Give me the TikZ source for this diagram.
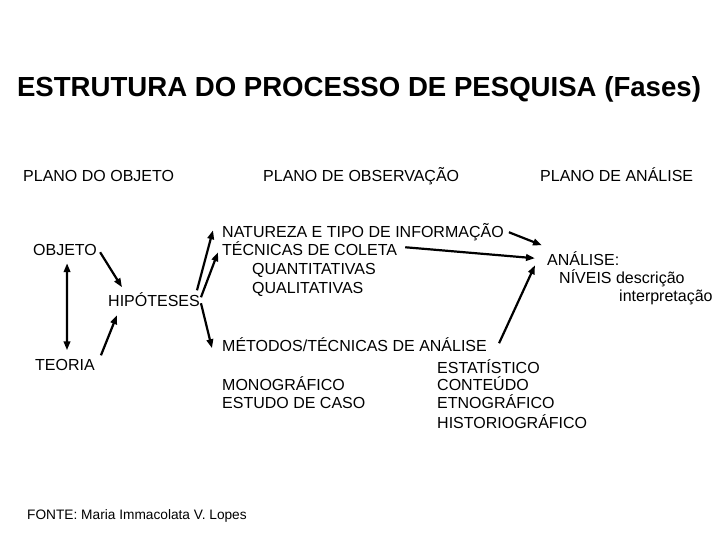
\documentclass[tikz,border=0pt]{standalone}
\usepackage{fontspec}
\setmainfont{Liberation Sans}
\usetikzlibrary{arrows.meta}

\begin{document}
\begin{tikzpicture}[
        x=1pt, y=-1pt,
        txt/.style={inner sep=0pt, anchor=base west, text height=11.5pt, text depth=0pt, font=\fontsize{16}{18}\selectfont},
        head/.style={inner sep=0pt, anchor=base, font=\bfseries\fontsize{27.6}{30}\selectfont},
        source/.style={inner sep=0pt, anchor=base west, font=\fontsize{13.7}{16}\selectfont},
        link/.style={line width=2.2pt, -{Triangle[length=9pt,width=6.5pt]}},
        twoway/.style={line width=2.2pt, {Triangle[length=9pt,width=6.5pt]}-{Triangle[length=9pt,width=6.5pt]}}
    ]
        \useasboundingbox (0,0) rectangle (720,540);

        % Title
        \node[head] (title) at (359,97) {ESTRUTURA DO PROCESSO DE PESQUISA (Fases)};

        % Phases
        \node[txt] (plano_obj) at (23,182) {PLANO DO OBJETO};
        \node[txt] (plano_obs) at (263,182) {PLANO DE OBSERVAÇÃO};
        \node[txt] (plano_ana) at (540,182) {PLANO DE ANÁLISE};

        % Plano do objeto
        \node[txt] (objeto) at (33,255) {OBJETO};
        \node[txt] (teoria) at (35,370) {TEORIA};
        \node[txt] (hip) at (108,306) {HIPÓTESES};

        % Plano de observacao
        \node[txt] (nat) at (222,237) {NATUREZA E TIPO DE INFORMAÇÃO};
        \node[txt] (tec) at (222,255) {TÉCNICAS DE COLETA};
        \node[txt] (quant) at (252,274) {QUANTITATIVAS};
        \node[txt] (qual) at (252,293) {QUALITATIVAS};
        \node[txt] (met) at (222,351) {MÉTODOS/TÉCNICAS DE ANÁLISE};
        \node[txt] (mono) at (222,390) {MONOGRÁFICO};
        \node[txt] (caso) at (222,408) {ESTUDO DE CASO};
        \node[txt] (estat) at (437,373) {ESTATÍSTICO};
        \node[txt] (cont) at (437,390) {CONTEÚDO};
        \node[txt] (etno) at (437,408) {ETNOGRÁFICO};
        \node[txt] (hist) at (437,428) {HISTORIOGRÁFICO};

        % Plano de analise
        \node[txt] (analise) at (547,265) {ANÁLISE:};
        \node[txt] (niveis) at (559,283) {NÍVEIS descrição};
        \node[txt] (interp) at (619,301) {interpretação};

        % Arrows
        \draw[twoway] ([shift={(2,8)}]objeto.south) -- ([shift={(2,-8)}]teoria.north);
        \draw[link] ([shift={(3,3)}]objeto.east) -- ([shift={(14,-7)}]hip.north west);
        \draw[link] ([shift={(6,-3)}]teoria.north east) -- ([shift={(9,9)}]hip.south west);
        \draw[link] ([shift={(-3,-4)}]hip.north east) -- ([shift={(-9,-1)}]nat.west);
        \draw[link] ([shift={(1,-3)}]hip.east) -- ([shift={(-4,3)}]tec.west);
        \draw[link] ([shift={(1,3)}]hip.east) -- ([shift={(-10,3)}]met.west);
        \draw[link] ([shift={(5,1)}]nat.east) -- ([shift={(-5,-8)}]analise.north west);
        \draw[link] ([shift={(8,-2)}]tec.east) -- ([shift={(-12,-1)}]analise.west);
        \draw[link] ([shift={(12,-2)}]met.east) -- ([shift={(-12,0)}]analise.south west);

        % Source
        \node[source] (fonte) at (27,519) {FONTE: Maria Immacolata V. Lopes};

    \end{tikzpicture}
\end{document}
